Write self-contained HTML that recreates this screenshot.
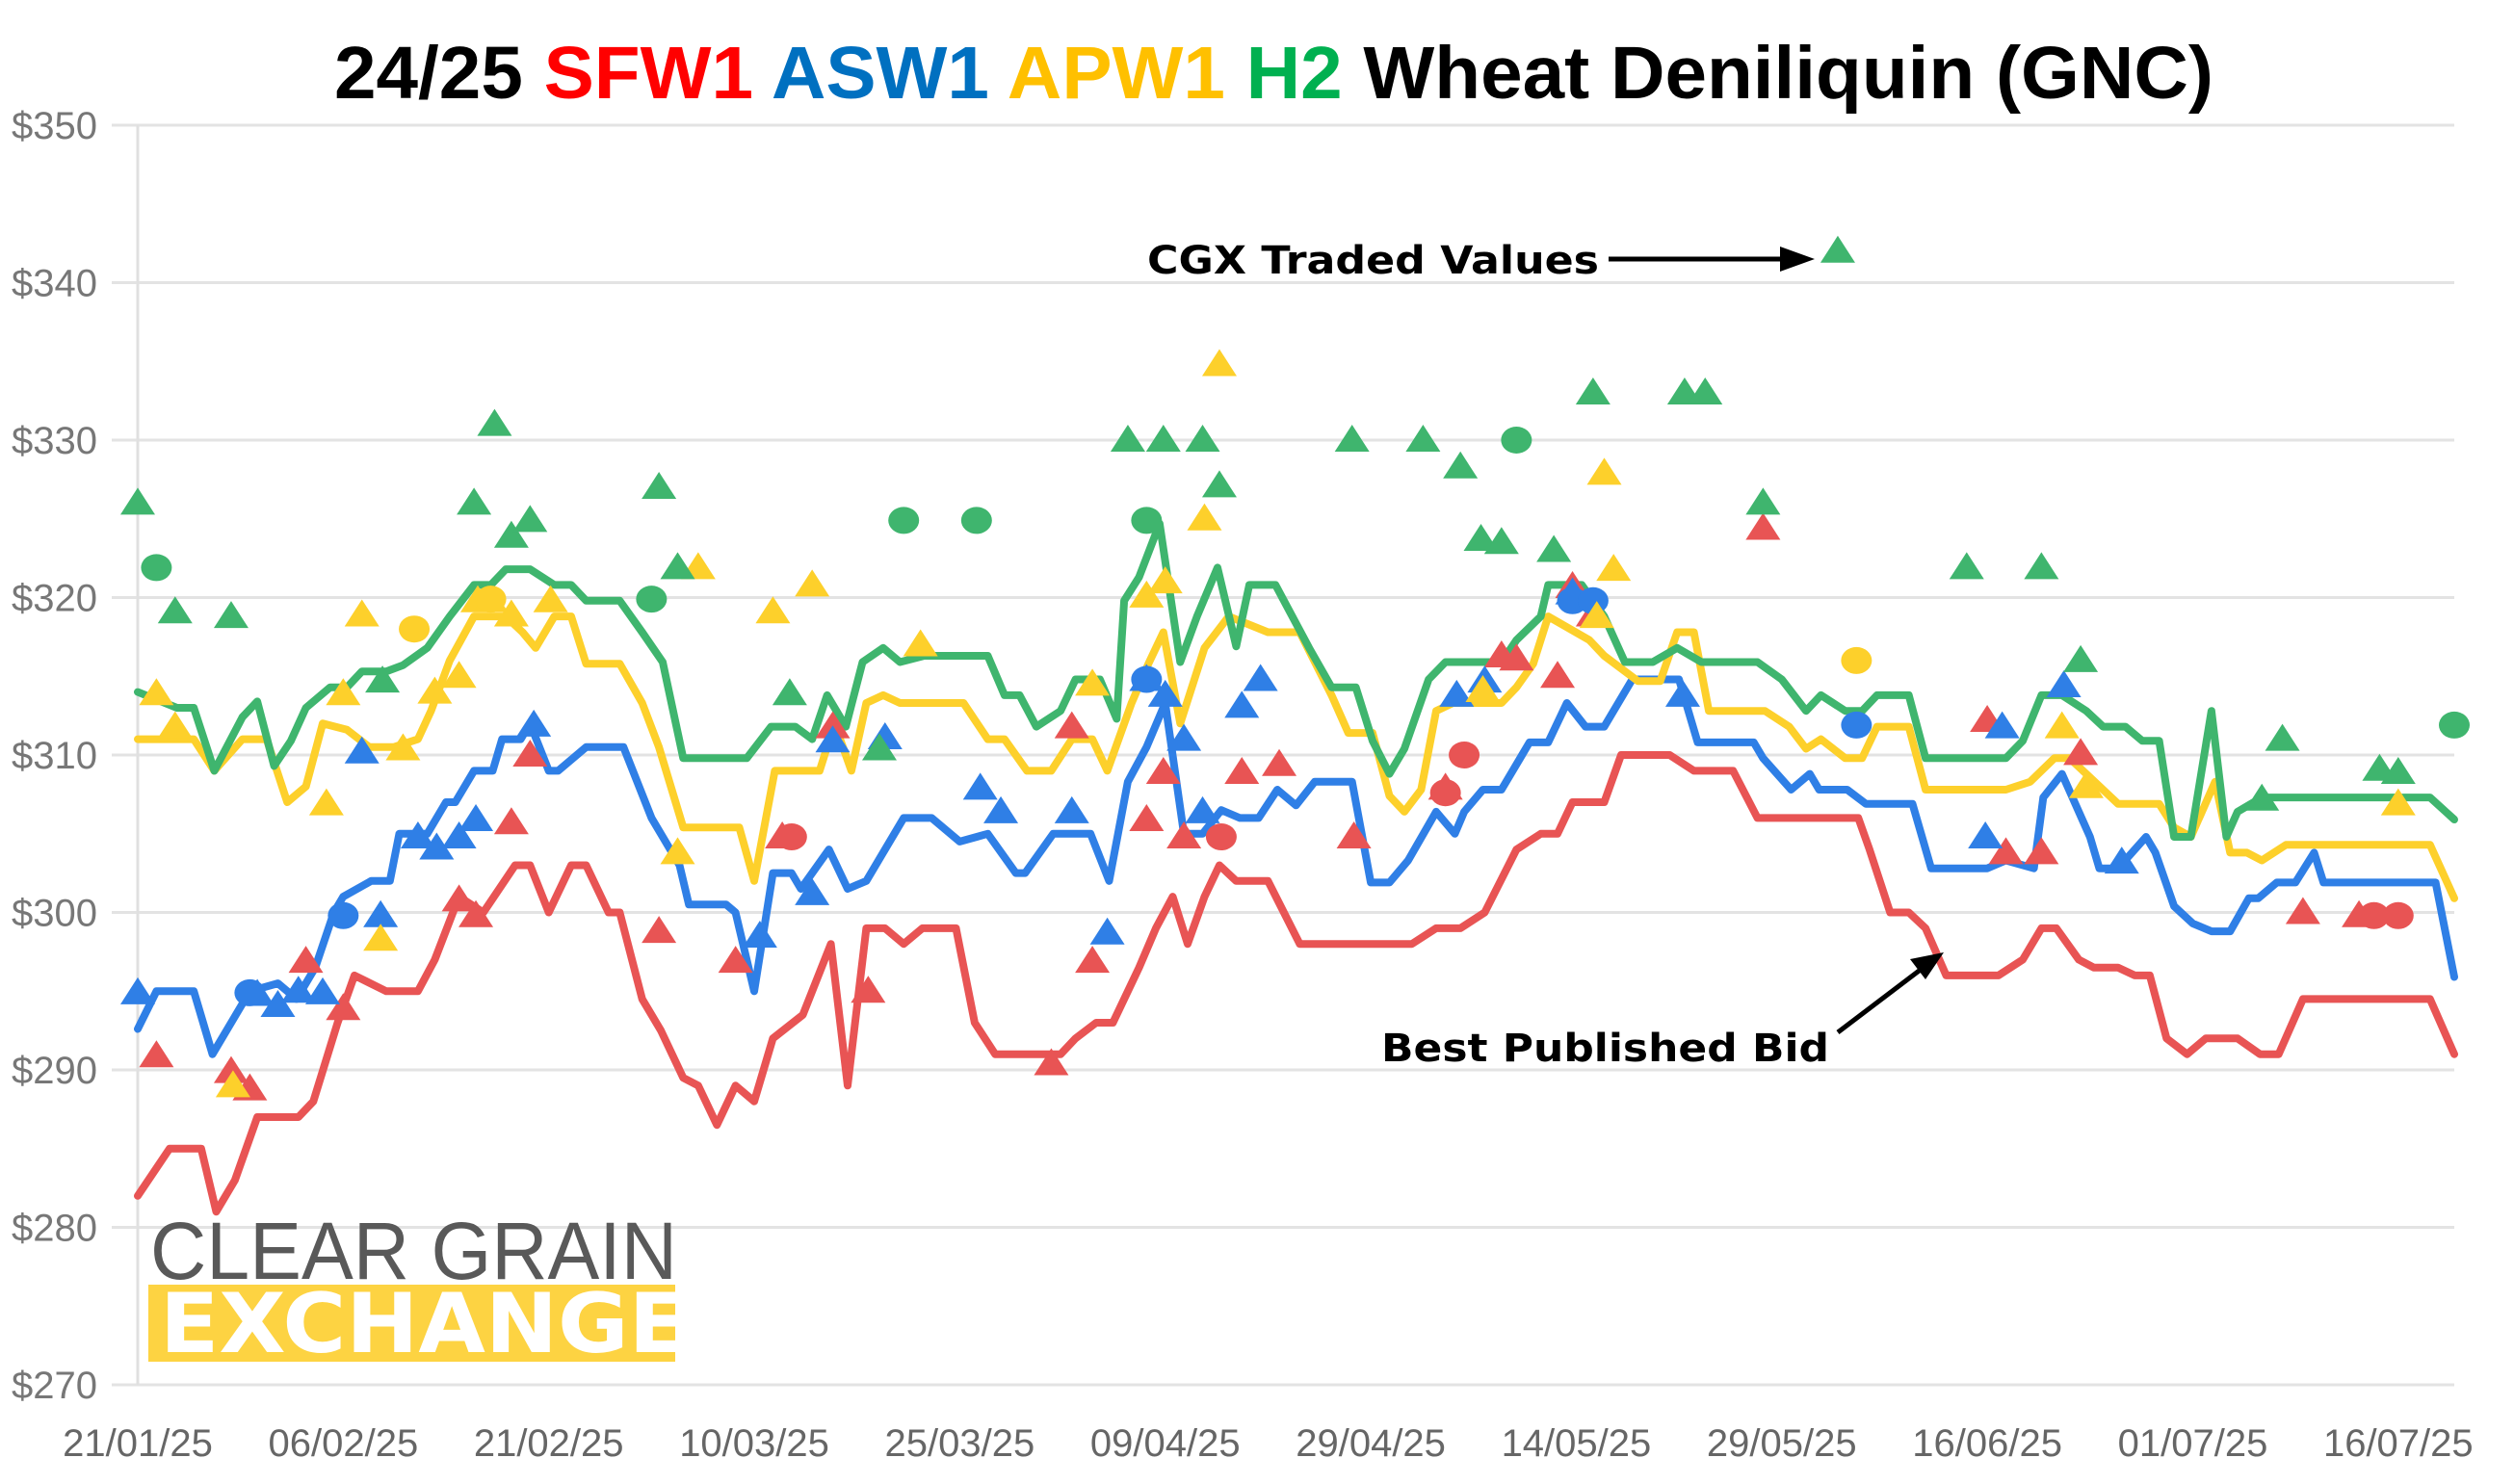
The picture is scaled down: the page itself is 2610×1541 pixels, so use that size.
<!DOCTYPE html>
<html><head><meta charset="utf-8"><style>
html,body{margin:0;padding:0;background:#fff;}
svg{display:block;}
</style></head><body>
<svg id="chart" width="2610" height="1541" viewBox="0 0 2610 1541" xmlns="http://www.w3.org/2000/svg">
<rect width="2610" height="1541" fill="#fff"/>
<text x="347" y="102" font-family="Liberation Sans, Arial, sans-serif" font-weight="bold" font-size="77" textLength="1951" lengthAdjust="spacingAndGlyphs"><tspan fill="#000">24/25 </tspan><tspan fill="#ff0000">SFW1 </tspan><tspan fill="#0070c0">ASW1 </tspan><tspan fill="#ffc000">APW1 </tspan><tspan fill="#00b050">H2 </tspan><tspan fill="#000">Wheat Deniliquin (GNC)</tspan></text>
<g id="grid"></g>
<g id="xlabels"></g>
<g id="logo">
<text x="156" y="1328" font-family="Liberation Sans, sans-serif" font-size="84" fill="#595959" textLength="547" lengthAdjust="spacingAndGlyphs">CLEAR GRAIN</text>
<rect x="154" y="1334" width="547" height="80" fill="#fdd342"/>
<svg x="154" y="1334" width="547" height="80" overflow="hidden"><text x="12" y="70" font-family="DejaVu Sans, sans-serif" font-weight="bold" font-size="86" fill="#fff" textLength="548" lengthAdjust="spacingAndGlyphs">EXCHANGE</text></svg>
</g>
<g id="lines"></g>
<g id="markers"></g>
<g id="annotations">
<text x="1191" y="284" font-family="DejaVu Sans, sans-serif" font-weight="bold" font-size="40" fill="#000" textLength="469" lengthAdjust="spacingAndGlyphs">CGX Traded Values</text>
<line x1="1670" y1="269" x2="1852" y2="269" stroke="#000" stroke-width="5"/>
<polygon points="1884,269 1848,256 1848,282" fill="#000"/>
<text x="1434" y="1102" font-family="DejaVu Sans, sans-serif" font-weight="bold" font-size="40" fill="#000" textLength="465" lengthAdjust="spacingAndGlyphs">Best Published Bid</text>
<line x1="1908" y1="1072" x2="1995" y2="1006" stroke="#000" stroke-width="5"/>
<polygon points="2018,989 1983,996 1999,1017" fill="#000"/>
</g>
</svg>
<script>
const yTicks=[350,340,330,320,310,300,290,280,270];
const xTickDays=[0,11,22,33,44,55,66,77,88,99,110,121];
const xTickLabels=["21/01/25","06/02/25","21/02/25","10/03/25","25/03/25","09/04/25","29/04/25","14/05/25","29/05/25","16/06/25","01/07/25","16/07/25"];
const sfw1=[[0,282],[1.7,285],[3.4,285],[4.2,281],[5.2,283],[6.4,287],[8.6,287],[9.4,288],[10.7,293],[11.6,296],[13.3,295],[15,295],[15.9,297],[17.2,301],[18.5,300],[20.2,303],[21,303],[22,300],[23.2,303],[24,303],[25.2,300],[25.8,300],[27,294.5],[28,292.5],[29.2,289.5],[30,289],[31,286.5],[32,289],[33,288],[34,292],[35.6,293.5],[37.1,298],[38,289],[39,299],[40,299],[41,298],[42,299],[43.8,299],[44.8,293],[45.9,291],[49.4,291],[50.2,292],[51.3,293],[52.2,293],[53.6,296.5],[54.5,299],[55.4,301],[56.2,298],[57.1,301],[57.9,303],[58.8,302],[60.5,302],[62.2,298],[68.2,298],[69.5,299],[70.8,299],[72.1,300],[73.8,304],[75.1,305],[76,305],[76.8,307],[78.5,307],[79.4,310],[82,310],[83.3,309],[85.4,309],[86.7,306],[92.1,306],[92.7,304],[93.8,300],[94.8,300],[95.7,299],[96.8,296],[99.6,296],[100.9,297],[101.9,299],[102.7,299],[103.9,297],[104.7,296.5],[106,296.5],[106.9,296],[107.7,296],[108.6,292],[109.7,291],[110.7,292],[112.4,292],[113.6,291],[114.6,291],[115.9,294.5],[122.7,294.5],[124,291]];
const asw1=[[0,292.6],[1,295],[3,295],[4,291],[5,293],[6,295],[7.5,295.5],[8.5,294.5],[9.5,296.5],[10.5,300],[11,301],[12.5,302],[13.5,302],[14,305],[15.5,305],[16.5,307],[17,307],[18,309],[19,309],[19.5,311],[20.5,311],[21,312],[22,309],[22.5,309],[24,310.5],[26,310.5],[27.5,306],[29,303],[29.5,300.5],[31.5,300.5],[32,300],[33,295],[34,302.5],[35,302.5],[35.5,301.5],[37,304],[38,301.5],[39,302],[41,306],[42.5,306],[44,304.5],[45.5,305],[47,302.5],[47.5,302.5],[49,305],[51,305],[52,302],[53,308.3],[54,310.5],[55,313.3],[56,305],[57,305],[58,306.5],[59,306],[60,306],[61,307.8],[62,306.8],[63,308.3],[65,308.3],[66,301.9],[67,301.9],[68,303.3],[69.5,306.4],[70.5,305],[71,306.4],[72,307.8],[73,307.8],[74,309.8],[74.5,310.8],[75.5,310.8],[76.5,313.3],[77.5,311.8],[78.5,311.8],[80,314.8],[82.5,314.8],[83.5,310.8],[86.5,310.8],[87,309.8],[88.5,307.8],[89.5,308.8],[90,307.8],[91.5,307.8],[92.5,306.9],[95,306.9],[96,302.8],[99,302.8],[100,303.3],[101.5,302.8],[102,307.3],[103,308.8],[104.5,304.8],[105,302.8],[106,302.8],[107.5,304.8],[108,303.8],[109,300.4],[110,299.3],[111,298.8],[112,298.8],[113,300.9],[113.5,300.9],[114.5,301.9],[115.5,301.9],[116.5,303.8],[117,301.9],[123,301.9],[124,295.9]];
const apw1=[[0,311],[3,311],[4.1,309],[5.6,311],[6.9,311],[8,307],[9,308],[9.9,312],[11.2,311.6],[12.4,310.5],[13.7,310.5],[15,311],[15.7,312.8],[16.7,316],[18,318.8],[19.7,318.8],[20.6,317.8],[21.3,316.8],[22.3,318.8],[23.2,318.8],[24,315.8],[25.8,315.8],[27,313.3],[27.9,310.5],[29.2,305.4],[30.9,305.4],[32.2,305.4],[33,302],[34.1,309],[36.5,309],[37.3,312],[38.2,309],[39,313.3],[39.9,313.8],[40.8,313.3],[44.2,313.3],[45.5,311],[46.4,311],[47.6,309],[48.9,309],[50,311],[51.1,311],[51.9,309],[53.2,313.3],[54.1,315.8],[54.9,317.8],[55.8,312],[57.1,316.8],[58.4,318.8],[60.5,317.8],[62.2,317.8],[63.9,313.8],[64.8,311.4],[66.1,311.4],[67,307.4],[67.8,306.4],[68.7,307.8],[69.5,312.8],[70.4,313.3],[73,313.3],[73.8,314.3],[74.7,315.8],[75.5,318.8],[77.7,317.3],[78.5,316.3],[80.3,314.7],[81.5,314.7],[82.4,317.8],[83.3,317.8],[84.1,312.8],[87.1,312.8],[88.4,311.8],[89.3,310.4],[90.1,311],[91.4,309.8],[92.3,309.8],[93.1,311.8],[94.8,311.8],[95.7,307.8],[100,307.8],[101.3,308.3],[102.6,309.8],[103.4,309.8],[104.3,308.8],[106,306.9],[108.2,306.9],[109,305.4],[109.9,304.8],[111.2,308.3],[112,303.8],[112.9,303.8],[113.7,303.3],[115,304.3],[122.7,304.3],[124,300.9]];
const h2=[[0,314],[2.1,313],[3,313],[4.1,309],[5.6,312.4],[6.4,313.4],[7.3,309.3],[8.2,310.9],[9,313],[10.3,314.3],[11.2,314.3],[12,315.3],[13.3,315.3],[14.2,315.7],[15.5,316.8],[16.7,318.8],[18,320.8],[18.9,320.8],[19.7,321.8],[21,321.8],[22.3,320.8],[23.2,320.8],[24,319.8],[25.8,319.8],[27,317.8],[28.1,315.9],[29.2,309.8],[32.6,309.8],[33.9,311.8],[35.2,311.8],[36.1,311],[36.9,313.8],[37.9,311.8],[38.8,315.9],[39.9,316.8],[40.8,315.9],[42.1,316.3],[45.5,316.3],[46.4,313.8],[47.2,313.8],[48.1,311.8],[49.4,312.8],[50.2,314.8],[51.5,314.8],[52.4,312.3],[52.8,319.8],[53.6,321.3],[54.7,324.7],[55.8,315.9],[56.7,318.8],[57.8,321.9],[58.8,316.9],[59.5,320.8],[60.9,320.8],[62.7,316.8],[63.9,314.3],[65.2,314.3],[66.1,310.9],[67,308.8],[67.8,310.4],[69.1,314.8],[70,315.9],[73,315.9],[73.8,317.3],[75.1,318.8],[75.5,320.8],[77.3,320.8],[78.5,318.8],[79.6,315.9],[81.1,315.9],[82.4,316.8],[83.7,315.9],[86.7,315.9],[88,314.8],[89.3,312.8],[90.1,313.8],[91.4,312.8],[92.3,312.8],[93.1,313.8],[94.8,313.8],[95.7,309.8],[100,309.8],[100.9,310.9],[101.9,313.8],[103,313.8],[104.3,312.8],[105.2,311.8],[106.4,311.8],[107.3,310.9],[108.2,310.9],[109,304.8],[109.9,304.8],[111,312.8],[111.8,304.8],[112.4,306.4],[113.7,307.3],[114.6,307.3],[122.7,307.3],[124,305.9]];
const h2Tri=[[0,326],[2,319.1],[5,318.8],[13.1,314.7],[18,326],[19.1,331],[20,323.9],[21,324.9],[27.9,327],[28.9,321.9],[34.9,313.9],[39.7,310.4],[53,330],[54.9,330],[57,330],[57.9,327.1],[65,330],[68.8,330],[70.8,328.3],[71.9,323.7],[73,323.5],[75.8,323],[77.9,333],[82.8,333],[83.9,333],[87,326],[91,342],[97.9,321.9],[101.9,321.9],[104,316],[113.7,307.2],[114.8,311],[120,309.1],[121,308.9]];
const h2Dot=[[1,321.9],[27.5,319.9],[41,324.9],[44.9,324.9],[54,324.9],[73.8,330],[124,311.9]];
const apw1Tri=[[1,313.9],[2,311.8],[5.1,289],[10.1,306.9],[11,313.9],[12,318.9],[13,298.3],[14.2,310.4],[15.9,314],[17.2,315],[18.2,319.8],[18.9,319.8],[20,318.9],[22.1,319.8],[28.9,303.8],[30,321.9],[34,319.1],[36.1,320.8],[41.9,317],[51.1,314.5],[54,320.1],[55,321],[57.1,325],[57.9,334.8],[72,314.1],[78.1,318.8],[78.5,327.9],[79,321.8],[103,311.8],[104.3,308],[121,306.9]];
const apw1Dot=[[14.8,318],[18.9,319.9],[92,316]];
const asw1Tri=[[0,294.9],[6.4,294.8],[7.5,294.1],[8.6,295],[9.9,294.9],[12,310.2],[13,299.8],[15,304.8],[16,304.1],[17.2,304.8],[18.1,305.9],[21.2,311.9],[33.3,298.5],[36.1,301.2],[37.2,310.9],[40,311.1],[45.1,307.9],[46.2,306.4],[50,306.4],[51.9,298.7],[54,314.8],[55,313.8],[56,311],[57,306.4],[59.1,313.1],[60.1,314.8],[70.6,313.8],[72.1,314.7],[76.8,320.3],[82.7,313.8],[98.9,304.8],[99.8,311.8],[103.1,314.4],[106.2,303.2]];
const asw1Dot=[[6,294.9],[11,299.8],[54,314.8],[76.8,319.8],[77.9,319.8],[92,311.9]];
const sfw1Tri=[[1,290.9],[5,289.9],[6,288.8],[9,296.9],[11,293.9],[17.2,300.8],[18.1,299.8],[20,305.7],[21,310],[27.9,298.8],[32,296.9],[34.5,304.8],[37.2,311.8],[39.1,295],[48.9,290.4],[50,311.8],[51.1,296.9],[54,305.9],[54.9,308.9],[56,304.8],[59.1,308.9],[61.1,309.4],[65.1,304.8],[70,307.9],[73,316.3],[73.8,316.1],[76,315],[76.8,320.7],[77.9,318.9],[87,324.4],[99,312.2],[100,303.8],[101.9,303.8],[104,310.1],[115.9,300],[118.9,299.8]];
const sfw1Dot=[[35,304.8],[58,304.8],[70,307.6],[71,310],[119.7,299.8],[121,299.8]];

const NS="http://www.w3.org/2000/svg";
const X0=143,X1=2548,DAYS=124,Y0=130,YV0=350,YV1=270,YB=1438;
function xs(d){return X0+d*(X1-X0)/DAYS;}
function ys(v){return Y0+(YV0-v)*(YB-Y0)/(YV0-YV1);}
function mk(tag,attrs,parent){const e=document.createElementNS(NS,tag);for(const k in attrs)e.setAttribute(k,attrs[k]);parent.appendChild(e);return e;}

const grid=document.getElementById('grid');
yTicks.forEach(v=>{
  const l=mk('line',{x1:116,x2:2548,y1:ys(v),y2:ys(v),stroke:'#e3e3e3','stroke-width':3},grid);
  
  
  const t=mk('text',{x:101,y:ys(v)+14,'text-anchor':'end','font-family':'Liberation Sans, Arial, sans-serif','font-size':40,fill:'#777'},grid);
  t.textContent='$'+v;
  
  
});
const ax=mk('line',{x1:X0,x2:X0,y1:Y0,y2:YB,stroke:'#e0e0e0','stroke-width':3},grid);



const xl=document.getElementById('xlabels');
xTickDays.forEach((d,i)=>{
  const t=mk('text',{x:xs(d),y:1512,'text-anchor':'middle','font-family':'Liberation Sans, Arial, sans-serif','font-size':40,fill:'#666'},xl);
  t.textContent=xTickLabels[i];
  
  
});

const colors={sfw1:'#e85454',asw1:'#2f7fe6',apw1:'#fdd02b',h2:'#3fb56e'};
const lg=document.getElementById('lines');
[['sfw1',sfw1],['asw1',asw1],['apw1',apw1],['h2',h2]].forEach(([k,arr])=>{
  const p=mk('polyline',{points:arr.map(p=>xs(p[0]).toFixed(1)+','+ys(p[1]).toFixed(1)).join(' '),fill:'none',stroke:colors[k],'stroke-width':8,'stroke-linejoin':'round','stroke-linecap':'round'},lg);
  
  
});

const mg=document.getElementById('markers');
function tri(arr,k){arr.forEach(p=>{const x=xs(p[0]),y=ys(p[1]);
  const e=mk('polygon',{points:`${x},${y-16} ${x-18},${y+12} ${x+18},${y+12}`,fill:colors[k]},mg);
  
  });}
function dot(arr,k){arr.forEach(p=>{
  const e=mk('ellipse',{cx:xs(p[0]),cy:ys(p[1]),rx:16,ry:14,fill:colors[k]},mg);
  
  });}
tri(sfw1Tri,'sfw1');dot(sfw1Dot,'sfw1');
tri(asw1Tri,'asw1');dot(asw1Dot,'asw1');
tri(apw1Tri,'apw1');dot(apw1Dot,'apw1');
tri(h2Tri,'h2');dot(h2Dot,'h2');
</script>
</body></html>
